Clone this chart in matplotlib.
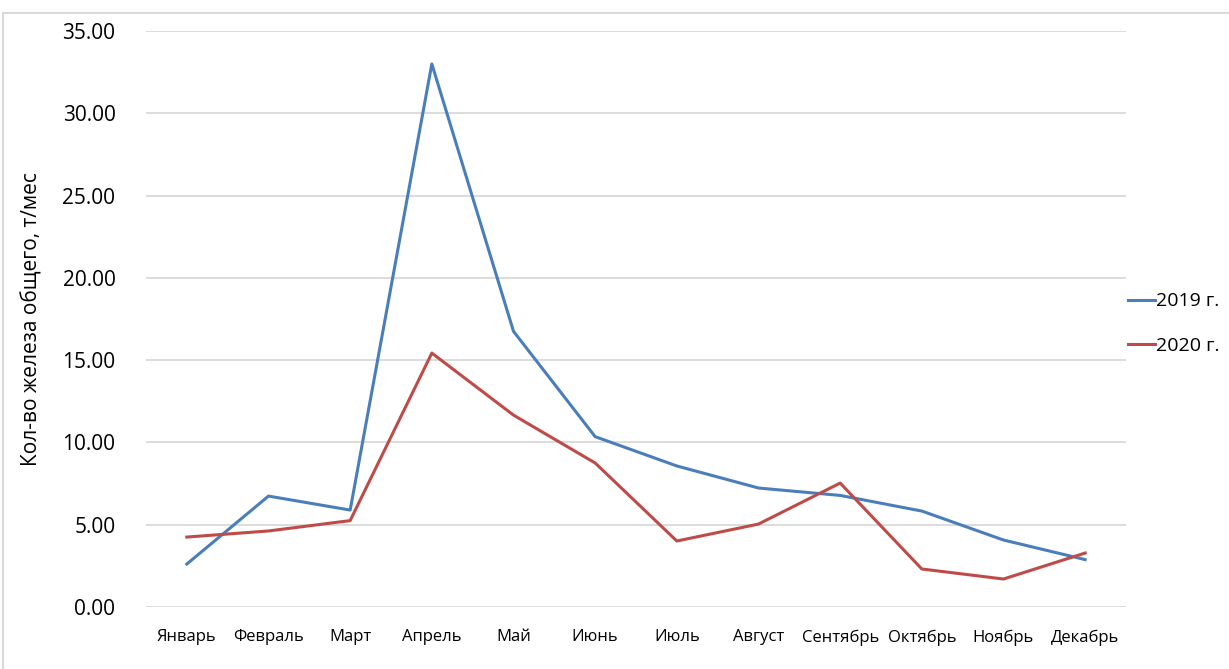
import matplotlib.pyplot as plt
import matplotlib.patches as mpatches
from matplotlib.ticker import FormatStrFormatter

# Data
months = ['Январь', 'Февраль', 'Март', 'Апрель', 'Май', 'Июнь',
          'Июль', 'Август', 'Сентябрь', 'Октябрь', 'Ноябрь', 'Декабрь']
values_2019 = [2.61, 6.74, 5.89, 33.0, 16.75, 10.35, 8.57, 7.23, 6.78, 5.83, 4.07, 2.88]
values_2020 = [4.25, 4.62, 5.25, 15.43, 11.66, 8.75, 4.01, 5.04, 7.53, 2.31, 1.70, 3.28]
series_labels = ['2019 г.', '2020 г.']
y_ticks = [0, 5, 10, 15, 20, 25, 30, 35]

plt.rcParams['font.family'] = ['Open Sans', 'DejaVu Sans']

fig = plt.figure(figsize=(12.29, 6.69), dpi=100)
fig.patch.set_facecolor('white')

# light outer frame like the Excel chart area
frame = mpatches.Rectangle((3 / 1229, -0.1), 1.2, 1 - 13 / 669 + 0.1,
                           transform=fig.transFigure, fill=False,
                           edgecolor='#D9D9D9', linewidth=1.5)
fig.patches.append(frame)

ax = fig.add_axes([146 / 1229, 1 - 607 / 669, (1126 - 146) / 1229, (607 - 31) / 669])

x = range(len(months))
ax.plot(x, values_2019, color='#4A7EBB', linewidth=2.2, label=series_labels[0])
ax.plot(x, values_2020, color='#BE4B48', linewidth=2.2, label=series_labels[1])

ax.set_xlim(-0.5, len(months) - 0.5)
ax.set_ylim(0, 35)
ax.set_yticks(y_ticks)
ax.yaxis.set_major_formatter(FormatStrFormatter('%.2f'))
ax.set_xticks(list(x))
ax.set_xticklabels(months, fontsize=12)
ax.tick_params(axis='y', labelsize=15, length=0, pad=22)
ax.tick_params(axis='x', length=0, pad=16)

ax.grid(axis='y', color='#D9D9D9', linewidth=1.3)
ax.set_axisbelow(True)
for s in ax.spines.values():
    s.set_visible(False)

ax.set_ylabel('Кол-во железа общего, т/мес', fontsize=15, labelpad=14)

ax.legend(loc='center left', bbox_to_anchor=(1128 / 1229, 1 - 323.5 / 669),
          bbox_transform=fig.transFigure, frameon=False, fontsize=14,
          handlelength=1.4, handletextpad=0.05, labelspacing=1.35, borderpad=0,
          borderaxespad=0)

fig.savefig('out.png', dpi=100, facecolor='white')
